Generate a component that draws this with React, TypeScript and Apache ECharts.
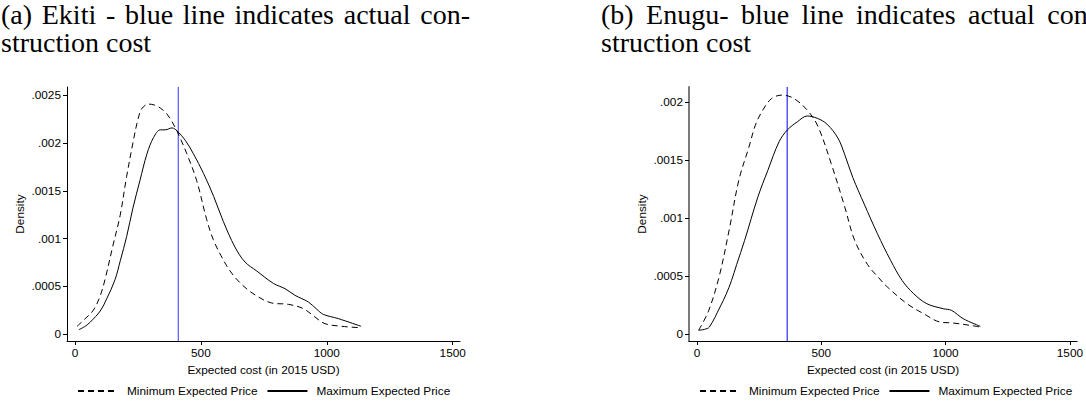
import React, { useEffect, useRef } from "react";
import * as echarts from "echarts";

// ---- data (x = expected cost in 2015 USD, y = density) ----
const xTicks = [0, 500, 1000, 1500];
const ekitiTicks = [0, 0.0005, 0.001, 0.0015, 0.002, 0.0025];
const enuguTicks = [0, 0.0005, 0.001, 0.0015, 0.002];

const ekitiMin: [number, number][] = [
  [8, 0.00008], [40, 0.00016], [73, 0.00025], [100, 0.0004], [120, 0.00058],
  [150, 0.00092], [179, 0.00124], [205, 0.00165], [232, 0.00203], [250, 0.00225],
  [265, 0.00236], [291, 0.00241], [315, 0.0024], [338, 0.00237], [364, 0.00231],
  [397, 0.00217], [420, 0.00204], [444, 0.00189], [483, 0.00161], [523, 0.0012],
  [549, 0.00099], [580, 0.00082], [616, 0.00066], [662, 0.00052], [715, 0.00041],
  [781, 0.000325], [847, 0.000311], [907, 0.000266], [953, 0.000178], [993, 0.000108],
  [1059, 0.0000807], [1132, 0.000066],
];
const ekitiMax: [number, number][] = [
  [15, 0.000045], [40, 0.00008], [61, 0.000126], [100, 0.000241], [126, 0.00037],
  [159, 0.00057], [180, 0.00077], [205, 0.00102], [230, 0.00132], [258, 0.00161],
  [286, 0.00189], [312, 0.00206], [339, 0.00214], [359, 0.00214], [385, 0.00216],
  [405, 0.00213], [438, 0.00203], [470, 0.00189], [511, 0.00168], [551, 0.00144],
  [589, 0.00118], [635, 0.000912], [675, 0.000755], [722, 0.00066], [788, 0.00053],
  [834, 0.000475], [874, 0.000405], [927, 0.000335], [960, 0.00026], [986, 0.000206],
  [1046, 0.000161], [1136, 0.0000807],
];
const enuguMin: [number, number][] = [
  [7, 0.000032], [47, 0.0002], [90, 0.0005], [130, 0.0009], [169, 0.00133],
  [209, 0.00161], [235, 0.0018], [262, 0.00192], [300, 0.00203], [342, 0.00206],
  [391, 0.00203], [448, 0.00192], [487, 0.00179], [540, 0.00147], [594, 0.0011],
  [634, 0.00081], [686, 0.0006], [739, 0.000466], [766, 0.000405], [845, 0.000261],
  [912, 0.000175], [978, 0.000103], [1031, 0.0000948], [1097, 0.000075], [1140, 0.00006],
];
const enuguMax: [number, number][] = [
  [7, 0.000032], [30, 0.00004], [50, 0.00006], [93, 0.000233], [117, 0.00034],
  [139, 0.00046], [160, 0.0006], [192, 0.000808], [245, 0.00118], [285, 0.00141],
  [331, 0.00166], [364, 0.00176], [404, 0.00183], [444, 0.00188], [484, 0.00186],
  [523, 0.00181], [567, 0.00169], [594, 0.00155], [627, 0.00135], [673, 0.00112],
  [726, 0.000865], [779, 0.000635], [825, 0.000463], [872, 0.000347], [925, 0.000261],
  [991, 0.000218], [1024, 0.000204], [1071, 0.000132], [1140, 0.0000663],
];
const actualCost = [410, 363];
const seriesNames = ["Minimum Expected Price", "Maximum Expected Price"];
const titles = [
  ["(a) Ekiti - blue line indicates actual con-", "struction cost"],
  ["(b) Enugu- blue line indicates actual con-", "struction cost"],
];

const SANS = "Liberation Sans";
const SERIF = "Liberation Serif";
const FS = 11.8;
const TITLE_FS = 28;

function fmtY(v: number) {
  if (v === 0) return "0";
  return String(v).replace(/^0/, "");
}

function measure(text: string): number {
  const c = document.createElement("canvas").getContext("2d");
  if (!c) return text.length * TITLE_FS * 0.45;
  c.font = `${TITLE_FS}px "${SERIF}"`;
  return c.measureText(text).width;
}

export default function App() {
  const ref = useRef<HTMLDivElement>(null);
  useEffect(() => {
    if (!ref.current) return;
    const chart = echarts.init(ref.current, null, { renderer: "svg" });
    const grids = [
      { left: 67, top: 87, width: 393, height: 254 },
      { left: 689, top: 87, width: 393, height: 254 },
    ];
    const yRanges = [
      [-0.0000734, 0.002589],
      [-0.0000603, 0.00213],
    ];
    const yTicksAll = [ekitiTicks, enuguTicks];
    const xAxis = grids.map((_, i) => ({
      type: "value",
      gridIndex: i,
      min: -31.8,
      max: 1529,
      axisLine: { show: true, onZero: false, lineStyle: { color: "#000", width: 1 } },
      axisTick: { show: true, customValues: xTicks, length: 4, lineStyle: { color: "#000" } },
      axisLabel: {
        customValues: xTicks,
        color: "#000",
        fontSize: FS,
        fontFamily: SANS,
        margin: 6,
        formatter: (v: number) => String(v),
      },
      splitLine: { show: false },
      name: "Expected cost (in 2015 USD)",
      nameLocation: "middle",
      nameGap: 16,
      nameTextStyle: { color: "#000", fontSize: FS, fontFamily: SANS },
    }));
    const yAxis = grids.map((_, i) => ({
      type: "value",
      gridIndex: i,
      min: yRanges[i][0],
      max: yRanges[i][1],
      axisLine: {
        show: true,
        onZero: false,
        lineStyle: i === 0 ? { color: "#000", width: 1 } : { color: "#7a7a7a", width: 2 },
      },
      axisTick: { show: true, customValues: yTicksAll[i], length: 4, lineStyle: { color: "#000" } },
      axisLabel: {
        customValues: yTicksAll[i],
        color: "#000",
        fontSize: FS,
        fontFamily: SANS,
        margin: 6,
        formatter: (v: number) => fmtY(v),
      },
      splitLine: { show: false },
      name: "Density",
      nameLocation: "middle",
      nameRotate: 90,
      nameGap: 41,
      nameTextStyle: { color: "#000", fontSize: FS, fontFamily: SANS },
    }));
    const dataSets = [
      [ekitiMin, ekitiMax],
      [enuguMin, enuguMax],
    ];
    const blue = ["#3333ff", "#0000ff"];
    const series: any[] = [];
    dataSets.forEach((pair, i) => {
      pair.forEach((d, j) => {
        series.push({
          type: "line",
          name: seriesNames[j],
          xAxisIndex: i,
          yAxisIndex: i,
          data: d,
          symbol: "none",
          showSymbol: false,
          smooth: 0.35,
          z: 3,
          lineStyle: { color: "#000", width: 1, type: j === 0 ? [6, 4] : "solid" },
          itemStyle: { color: "#000" },
        });
      });
      // actual construction cost: vertical blue line drawn through the axis scale
      series.push({
        type: "line",
        name: "actual" + i,
        xAxisIndex: i,
        yAxisIndex: i,
        data: [
          [actualCost[i], yRanges[i][0]],
          [actualCost[i], yRanges[i][1]],
        ],
        symbol: "none",
        showSymbol: false,
        z: 2,
        color: blue[i],
        lineStyle: { color: blue[i], width: 1, type: "solid" },
        itemStyle: { color: blue[i] },
      });
    });
    const legend = [77, 699].map((left) => ({
      left,
      top: 385,
      width: 400,
      padding: 0,
      orient: "horizontal",
      itemWidth: 40,
      itemHeight: 12,
      itemGap: 9,
      data: seriesNames,
      selectedMode: false,
      itemStyle: { opacity: 0 },
      textStyle: { color: "#000", fontSize: FS, fontFamily: SANS, padding: [0, 0, 0, 4] },
    }));
    // justified first lines (LaTeX-style), natural last lines
    const lineTargets = [
      [469, 0],
      [496, 0],
    ];
    const startX = [1, 601];
    const graphic: any[] = [];
    titles.forEach((lines, i) => {
      lines.forEach((t, k) => {
        const y = k * 28;
        const target = lineTargets[i][k];
        if (target > 0) {
          const words = t.split(" ");
          const widths = words.map(measure);
          const total = widths.reduce((a, b) => a + b, 0);
          const gap = (target - total) / (words.length - 1);
          let x = startX[i];
          words.forEach((w, wi) => {
            graphic.push({
              type: "text",
              x,
              y,
              silent: true,
              style: {
                text: w,
                fontSize: TITLE_FS,
                lineHeight: 28,
                fontFamily: SERIF,
                fill: "#000",
                verticalAlign: "top",
              },
            });
            x += widths[wi] + gap;
          });
        } else {
          graphic.push({
            type: "text",
            x: startX[i],
            y,
            silent: true,
            style: {
              text: t,
              fontSize: TITLE_FS,
              lineHeight: 28,
              fontFamily: SERIF,
              fill: "#000",
              verticalAlign: "top",
            },
          });
        }
      });
    });
    chart.setOption({
      animation: false,
      backgroundColor: "#fff",
      grid: grids,
      xAxis,
      yAxis,
      series,
      legend,
      graphic,
    });
    return () => chart.dispose();
  }, []);
  return (
    <div
      ref={ref}
      style={{ position: "fixed", left: 0, top: 0, width: 1086, height: 402, background: "#fff" }}
    />
  );
}
